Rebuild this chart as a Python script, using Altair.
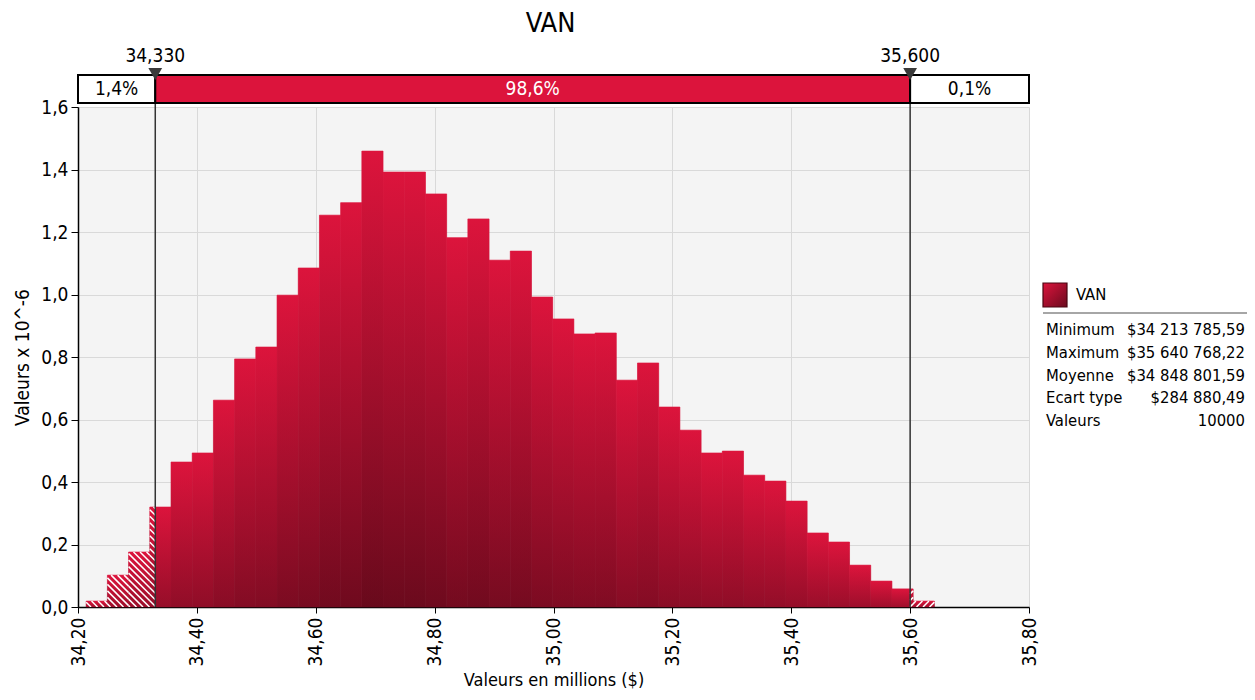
import altair as alt
import numpy as np
import pandas as pd

# ---------------- data ----------------
val_min = 34.21378559          # millions $
val_max = 35.64076822
n_bins = 40
densities = [0.019, 0.102, 0.176, 0.320, 0.464, 0.493, 0.662, 0.794, 0.832, 0.998,
             1.085, 1.254, 1.294, 1.459, 1.392, 1.392, 1.322, 1.182, 1.242, 1.110,
             1.139, 0.992, 0.922, 0.874, 0.877, 0.726, 0.781, 0.640, 0.566, 0.493,
             0.499, 0.422, 0.403, 0.339, 0.237, 0.208, 0.134, 0.083, 0.058, 0.019]
cut_values = [34.330, 35.600]
cut_labels = ["34,330", "35,600"]
band_labels = ["1,4%", "98,6%", "0,1%"]
x_ticks = [34.2, 34.4, 34.6, 34.8, 35.0, 35.2, 35.4, 35.6, 35.8]
y_ticks = [0.0, 0.2, 0.4, 0.6, 0.8, 1.0, 1.2, 1.4, 1.6]
stat_names = ["Minimum", "Maximum", "Moyenne", "Ecart type", "Valeurs"]
stat_values = ["$34 213 785,59", "$35 640 768,22", "$34 848 801,59", "$284 880,49", "10000"]
series_name = "VAN"
x_title = "Valeurs en millions ($)"
y_title = "Valeurs x 10^-6"

# ---------------- layout constants ----------------
W, H = 951, 500
X_DOM = [x_ticks[0], x_ticks[-1]]
Y_DOM = [y_ticks[0], y_ticks[-1]]
FONT = "DejaVu Sans Condensed"
CRIMSON = "#DC143C"
DARK = "#5C0817"

# ---------------- histogram segments ----------------
edges = np.linspace(val_min, val_max, n_bins + 1)
lo_cut, hi_cut = cut_values
rows = []
for i, v in enumerate(densities):
    a, b = edges[i], edges[i + 1]
    if a < lo_cut:
        rows.append((a, min(b, lo_cut), v, "left"))
    s, e = max(a, lo_cut), min(b, hi_cut)
    if s < e:
        rows.append((s, e, v, "in"))
    if b > hi_cut:
        rows.append((max(a, hi_cut), b, v, "right"))
bars = pd.DataFrame(rows, columns=["x0", "x1", "v", "zone"])

# hatch stripes for the out-of-range segments (derived from the bars)
kx = W / (X_DOM[1] - X_DOM[0])
ky = H / (Y_DOM[1] - Y_DOM[0])
d = 6.5
stripes = []
for _, r in bars[bars.zone != "in"].iterrows():
    X0 = (r.x0 - X_DOM[0]) * kx
    X1 = (r.x1 - X_DOM[0]) * kx
    Ht = r.v * ky
    if r.zone == "left":   # "\" lines: px + py = c
        k0 = int(np.floor(X0 / d))
        k1 = int(np.ceil((X1 + Ht) / d))
        for k in range(k0, k1 + 1):
            c = k * d
            lo = max(X0, c - Ht)
            hi = min(X1, c)
            if hi - lo > 0.3:
                stripes.append((lo, c - lo, hi, c - hi))
    else:                  # "/" lines: py = px - c
        k0 = int(np.floor((X0 - Ht) / d))
        k1 = int(np.ceil(X1 / d))
        for k in range(k0, k1 + 1):
            c = k * d
            lo = max(X0, c)
            hi = min(X1, c + Ht)
            if hi - lo > 0.3:
                stripes.append((lo, lo - c, hi, hi - c))
stripe_df = pd.DataFrame(
    [(X_DOM[0] + a / kx, b / ky, X_DOM[0] + c / kx, e / ky) for a, b, c, e in stripes],
    columns=["sx", "sy", "sx2", "sy2"])

band_df = pd.DataFrame({
    "b0": [X_DOM[0], lo_cut, hi_cut],
    "b1": [lo_cut, hi_cut, X_DOM[1]],
    "zone": ["out", "in", "out"],
    "label": band_labels,
})
cut_df = pd.DataFrame({"x": cut_values, "label": cut_labels})

# ---------------- encodings ----------------
xscale = alt.Scale(domain=X_DOM, nice=False, zero=False)
yscale = alt.Scale(domain=Y_DOM, nice=False, zero=False)
xaxis = alt.Axis(values=x_ticks, labelExpr="replace(format(datum.value, '.2f'), '.', ',')",
                 labelAngle=-90, labelFontSize=19, labelColor="black", labelPadding=4,
                 tickSize=6, tickColor="black", domainColor="black", domainWidth=1.5,
                 grid=True, gridColor="#D9D9D9", titleFontSize=18, titleFontWeight="normal",
                 titleColor="black", titlePadding=6)
yaxis = alt.Axis(values=y_ticks, labelExpr="replace(format(datum.value, '.1f'), '.', ',')",
                 labelFontSize=19, labelColor="black", labelPadding=3,
                 tickSize=7, tickColor="black", domainColor="black", domainWidth=1.5,
                 grid=True, gridColor="#D9D9D9", titleFontSize=19, titleFontWeight="normal",
                 titleColor="black", titlePadding=8)

rel_gradient = {"gradient": "linear", "x1": 0, "y1": 0, "x2": 0, "y2": 1,
                "stops": [{"offset": 0, "color": CRIMSON}, {"offset": 1, "color": "#6A0A1E"}]}
depth_gradient = {"gradient": "linear", "x1": 0, "y1": 0, "x2": 0, "y2": 1,
                  "stops": [{"offset": 0, "color": CRIMSON}, {"offset": 1, "color": DARK}]}

# base: each bar shaded from its top to its foot
bars_base = alt.Chart(bars).mark_rect(fill=rel_gradient, stroke=rel_gradient,
                                      strokeWidth=0.6).encode(
    x=alt.X("x0:Q", scale=xscale, axis=xaxis, title=x_title),
    x2="x1:Q",
    y=alt.Y("v:Q", scale=yscale, axis=yaxis, title=y_title),
    y2=alt.datum(0),
)
# overlay: shading by depth below each bar's top (bars extended below the axis and clipped)
bars_depth = alt.Chart(bars).transform_calculate(
    vbot=f"datum.v - {Y_DOM[1]}"
).mark_rect(clip=True, fill=depth_gradient, opacity=0.5).encode(
    x=alt.X("x0:Q", scale=xscale, title=x_title),
    x2="x1:Q",
    y=alt.Y("v:Q", scale=yscale, title=y_title),
    y2="vbot:Q",
)

stripe_layer = alt.Chart(stripe_df).mark_rule(color="white", strokeWidth=1.5, clip=True).encode(
    x=alt.X("sx:Q", scale=xscale, title=x_title), x2="sx2:Q",
    y=alt.Y("sy:Q", scale=yscale, title=y_title), y2="sy2:Q",
)

band_rect = alt.Chart(band_df).mark_rect(stroke="black", strokeWidth=2).encode(
    x=alt.X("b0:Q", scale=xscale, title=x_title), x2="b1:Q",
    y=alt.value(-32), y2=alt.value(-4),
    fill=alt.Fill("zone:N", scale=alt.Scale(domain=["out", "in"], range=["white", CRIMSON]),
                  legend=None),
)
band_text = alt.Chart(band_df).transform_calculate(
    bm="(datum.b0 + datum.b1) / 2"
).mark_text(fontSize=19, baseline="middle").encode(
    x=alt.X("bm:Q", scale=xscale, title=x_title),
    y=alt.value(-18),
    text="label:N",
    color=alt.condition("datum.zone == 'in'", alt.value("white"), alt.value("black")),
)

cut_rules = alt.Chart(cut_df).mark_rule(color="#333333", strokeWidth=1.5).encode(
    x=alt.X("x:Q", scale=xscale, title=x_title), y=alt.value(-30), y2=alt.value(H),
)
cut_marks = alt.Chart(cut_df).mark_point(shape="triangle-down", filled=True, size=190,
                                         color="#3A3A3A", opacity=1).encode(
    x=alt.X("x:Q", scale=xscale, title=x_title), y=alt.value(-33),
)
cut_text = alt.Chart(cut_df).mark_text(fontSize=19, baseline="middle", color="black").encode(
    x=alt.X("x:Q", scale=xscale, title=x_title), y=alt.value(-51), text="label:N",
)

one = pd.DataFrame({"k": [0]})
title_layer = alt.Chart(one).mark_text(fontSize=27, baseline="middle", color="black").encode(
    x=alt.value(W / 2 - 3), y=alt.value(-83), text=alt.value(series_name))

swatch_gradient = {"gradient": "linear", "x1": 0, "y1": 0, "x2": 1, "y2": 1,
                   "stops": [{"offset": 0, "color": CRIMSON}, {"offset": 1, "color": "#6A0A1E"}]}
swatch = alt.Chart(one).mark_rect(fill=swatch_gradient, stroke="#4A0612", strokeWidth=1.2).encode(
    x=alt.value(965), x2=alt.value(989), y=alt.value(176), y2=alt.value(200))
swatch_text = alt.Chart(one).mark_text(fontSize=16.5, align="left", baseline="middle",
                                       color="black").encode(
    x=alt.value(998), y=alt.value(188), text=alt.value(series_name))
sep_line = alt.Chart(one).mark_rule(color="#888888", strokeWidth=1.5).encode(
    x=alt.value(965), x2=alt.value(1169), y=alt.value(206))
stat_left = alt.Chart(one).mark_text(fontSize=16.5, align="left", baseline="alphabetic",
                                     lineBreak="\n", lineHeight=22.75, color="black").encode(
    x=alt.value(968), y=alt.value(228), text=alt.value("\n".join(stat_names)))
stat_right = alt.Chart(one).mark_text(fontSize=16.5, align="right", baseline="alphabetic",
                                      lineBreak="\n", lineHeight=22.75, color="black").encode(
    x=alt.value(1167), y=alt.value(228), text=alt.value("\n".join(stat_values)))

chart = alt.layer(
    bars_base, bars_depth, stripe_layer, cut_rules, band_rect, band_text, cut_marks, cut_text,
    title_layer, swatch, swatch_text, sep_line, stat_left, stat_right,
).properties(
    width=W, height=H,
    autosize=alt.AutoSizeParams(type="none"),
    padding={"left": 70, "top": 99, "right": 218, "bottom": 85},
    background="white",
).configure(font=FONT).configure_view(fill="#F4F4F4", stroke="transparent")

chart.save("out.html", embed_options={"renderer": "svg", "actions": False})
